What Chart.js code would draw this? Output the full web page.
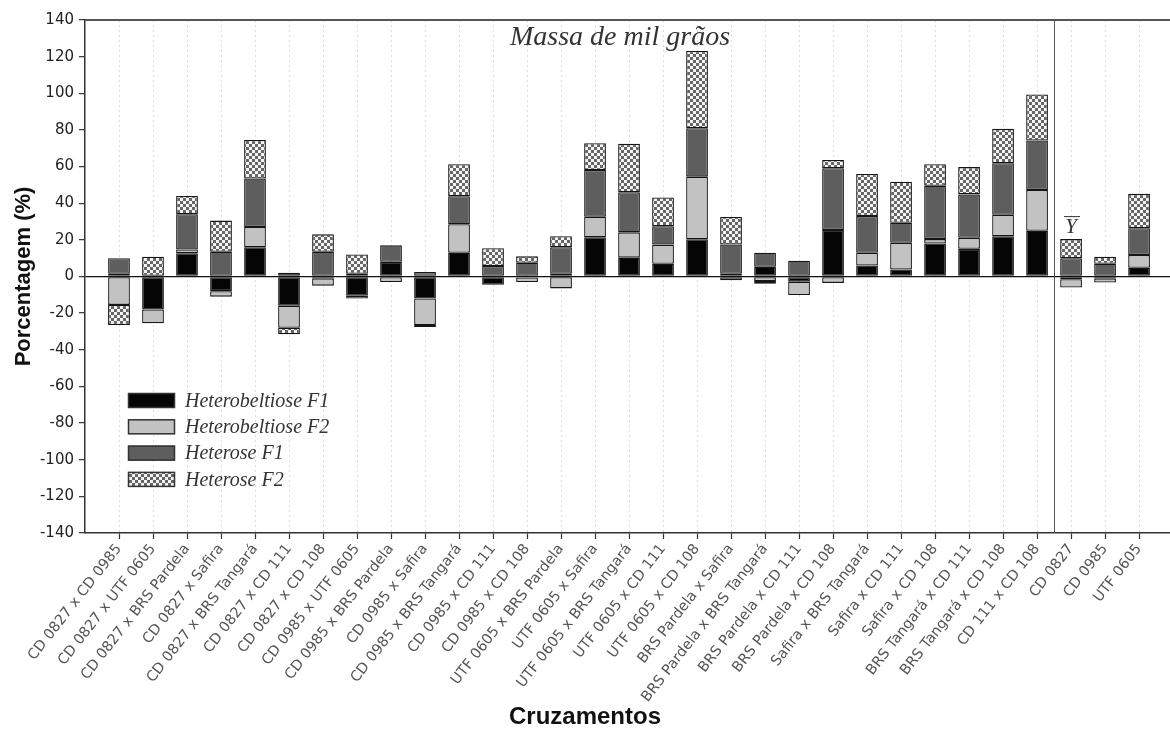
<!DOCTYPE html>
<html>
<head>
<meta charset="utf-8">
<script src="https://cdn.jsdelivr.net/npm/chart.js@4.4.1/dist/chart.umd.min.js"></script>
<style>
html,body{margin:0;padding:0;background:#fff;}
#wrap{width:1170px;height:729px;position:relative;}
</style>
</head>
<body>
<div id="wrap"><canvas id="c" width="1170" height="729"></canvas></div>
<script>
// ---------- data ----------
const categories = [
  'CD 0827 x CD 0985','CD 0827 x UTF 0605','CD 0827 x BRS Pardela','CD 0827 x Safira',
  'CD 0827 x BRS Tangará','CD 0827 x CD 111','CD 0827 x CD 108','CD 0985 x UTF 0605',
  'CD 0985 x BRS Pardela','CD 0985 x Safira','CD 0985 x BRS Tangará','CD 0985 x CD 111',
  'CD 0985 x CD 108','UTF 0605 x BRS Pardela','UTF 0605 x Safira','UTF 0605 x BRS Tangará',
  'UTF 0605 x CD 111','UTF 0605 x CD 108','BRS Pardela x Safira','BRS Pardela x BRS Tangará',
  'BRS Pardela x CD 111','BRS Pardela x CD 108','Safira x BRS Tangará','Safira x CD 111',
  'Safira x CD 108','BRS Tangará x CD 111','BRS Tangará x CD 108','CD 111 x CD 108',
  'CD 0827','CD 0985','UTF 0605'
];
const heterobeltioseF1 = [1.5,-18,12.7,-8,16,-16,-1,-10.5,8,-12,13,-4.5,-0.5,1.5,21.4,10.3,7,20.3,1.5,5.3,-2.8,25.4,6,3.8,18,15.1,22,25,-1.5,-1,4.8];
const heterobeltioseF2 = [-15.5,-7.5,2,-3,11,-12,-4,-1.5,-3,-14.5,15.5,0,-2.5,-6.5,11.2,13.8,10.4,34.2,-2,-2.5,-7.3,-3.5,7,14.6,2.4,6,11.7,22.2,-4.5,-2.3,6.9];
const heteroseF1       = [8.5,0,19.3,13.5,26.5,2,13.5,1.5,9,2.5,15.3,5.7,7.5,14.5,25.5,21.9,10,26.4,16,7.7,8.6,33.7,20,10.9,29.1,23.7,28.1,27,10,7,14.6];
const heteroseF2       = [-11,10.8,10,17,21,-3.5,9.5,10.5,0,-1,17.5,9.7,3.5,6,14.6,26.4,15.7,42.2,15,-1.5,0,4.5,23,22.4,11.8,14.9,18.8,25.1,10.4,3.8,18.8];
const seriesNames = ['Heterobeltiose F1','Heterobeltiose F2','Heterose F1','Heterose F2'];
const yMin = -140, yMax = 140, yStep = 20;
const chartTitle = 'Massa de mil grãos';
const xTitle = 'Cruzamentos';
const yTitle = 'Porcentagem (%)';
const meanLabel = 'Y';
const meanIndex = 28;          // first parent (mean) category
const separatorAfter = 28;     // separator between crosses and parents

// ---------- styles ----------
function makeHatch(){
  const c = document.createElement('canvas'); c.width = 6; c.height = 6;
  const g = c.getContext('2d');
  g.fillStyle = '#666666'; g.fillRect(0,0,6,6);
  g.fillStyle = '#f4f4f4'; g.fillRect(0,0,3,3); g.fillRect(3,3,3,3);
  return g.createPattern(c,'repeat');
}
const ctx0 = document.getElementById('c').getContext('2d');
const hatch = makeHatch();
const fills = ['#050505','#c2c2c2','#5e5e5e', hatch];
const seriesData = [heterobeltioseF1, heterobeltioseF2, heteroseF1, heteroseF2];

const datasets = seriesData.map((arr, k) => ({
  label: seriesNames[k],
  data: arr.map((v,i)=>({x:i+1, y:v})),
  backgroundColor: fills[k],
  borderColor: '#151515',
  borderWidth: 1.3,
  borderSkipped: false,
  categoryPercentage: 1,
  barPercentage: 0.64
}));

const decor = {
  id:'decor',
  afterDatasetsDraw(chart){
    const {ctx, chartArea:a, scales:{x,y}} = chart;
    ctx.save();
    // top frame line
    ctx.strokeStyle = '#555'; ctx.lineWidth = 2;
    ctx.beginPath(); ctx.moveTo(a.left, a.top); ctx.lineTo(a.right, a.top); ctx.stroke();
    // separator
    const sx = Math.round(x.getPixelForValue(separatorAfter + 0.5)) + 0.5;
    ctx.strokeStyle = '#555'; ctx.lineWidth = 1;
    ctx.beginPath(); ctx.moveTo(sx, a.top); ctx.lineTo(sx, a.bottom); ctx.stroke();
    // title
    ctx.fillStyle = '#333';
    ctx.font = 'italic 28px "Liberation Serif"';
    ctx.textAlign = 'center'; ctx.textBaseline = 'alphabetic';
    ctx.fillText(chartTitle, 620, 45);
    // mean label above first parent bar
    let top = 0;
    seriesData.forEach(arr => { if (arr[meanIndex] > 0) top += arr[meanIndex]; });
    const mx = x.getPixelForValue(meanIndex + 1);
    const my = y.getPixelForValue(top) - 6;
    ctx.font = 'italic 21px "Liberation Serif"';
    ctx.fillStyle = '#333';
    ctx.fillText(meanLabel, mx, my);
    ctx.strokeStyle = '#333'; ctx.lineWidth = 1;
    ctx.beginPath(); ctx.moveTo(mx - 7, my - 16.5); ctx.lineTo(mx + 9, my - 16.5); ctx.stroke();
    // legend
    const lx = 128, ly0 = 393, lh = 26.3, bw = 47, bh = 15;
    chart.data.datasets.forEach((ds, k) => {
      const yy = ly0 + k * lh;
      ctx.fillStyle = ds.backgroundColor;
      ctx.fillRect(lx, yy, bw, bh);
      ctx.strokeStyle = '#333'; ctx.lineWidth = 1.5;
      ctx.strokeRect(lx + 0.5, yy + 0.5, bw - 1, bh - 1);
      ctx.fillStyle = '#333';
      ctx.font = 'italic 20px "Liberation Serif"';
      ctx.textAlign = 'left'; ctx.textBaseline = 'middle';
      ctx.fillText(ds.label, 185, yy + bh / 2 + 1);
    });
    // x axis title
    ctx.font = 'bold 24px "Liberation Sans"';
    ctx.fillStyle = '#111';
    ctx.textAlign = 'center'; ctx.textBaseline = 'middle';
    ctx.fillText(xTitle, 585, 717);
    ctx.restore();
  }
};

new Chart(ctx0, {
  type: 'bar',
  data: { datasets },
  options: {
    responsive: false,
    animation: false,
    devicePixelRatio: 1,
    layout: { padding: { top: 20, right: 0, left: 0, bottom: 0 } },
    plugins: { legend: { display: false }, tooltip: { enabled: false } },
    scales: {
      x: {
        type: 'linear',
        stacked: true,
        offset: false,
        min: 0,
        max: 31.91,
        afterBuildTicks(scale){ scale.ticks = categories.map((_, i) => ({ value: i + 1 })); },
        afterFit(scale){ scale.height = 196; },
        ticks: {
          autoSkip: false,
          minRotation: 52, maxRotation: 52,
          padding: 2,
          color: '#555',
          font: { family: 'DejaVu Sans', size: 14.4 },
          callback: (v) => categories[v - 1] ?? ''
        },
        grid: {
          offset: false,
          color: '#dcdcdc', lineWidth: 1,
          tickColor: '#333', tickLength: 6, tickWidth: 1.2
        },
        border: { color: '#333', width: 1.5, dash: [2, 3] }
      },
      y: {
        stacked: true,
        min: yMin, max: yMax,
        afterFit(scale){ scale.width = 85; },
        ticks: {
          stepSize: yStep,
          padding: 5,
          color: '#222',
          font: { family: 'DejaVu Sans', size: 15 }
        },
        grid: {
          color: (c) => (c.tick && c.tick.value === 0) ? '#111' : 'rgba(0,0,0,0)',
          lineWidth: 1.3,
          tickColor: '#333', tickLength: 6, tickWidth: 1.2
        },
        border: { color: '#333', width: 1.5 },
        title: {
          display: true, text: yTitle, color: '#111',
          font: { family: 'Liberation Sans', size: 22, weight: 'bold' },
          padding: { top: 11, bottom: 0 }
        }
      }
    }
  },
  plugins: [decor]
});
</script>
</body>
</html>
